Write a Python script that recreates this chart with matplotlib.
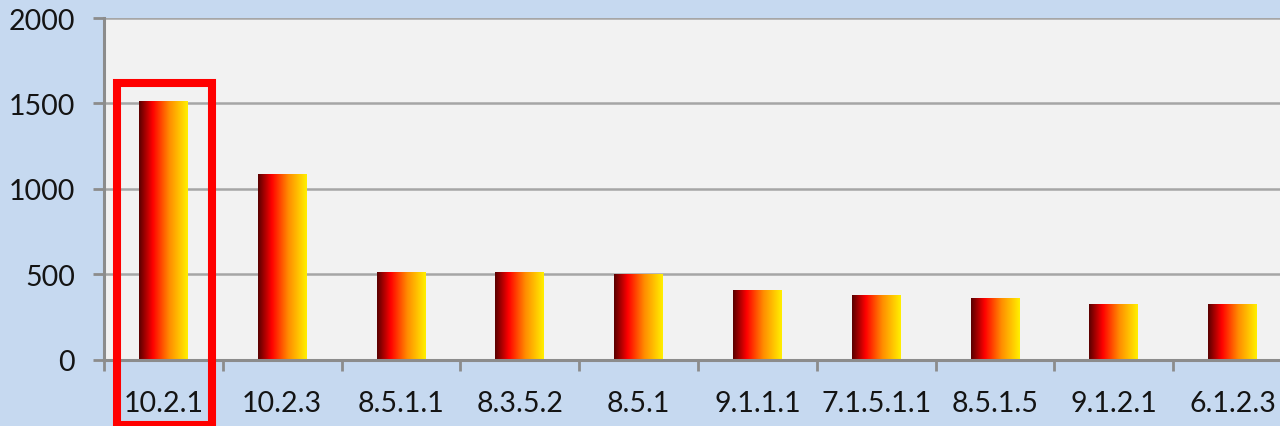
import numpy as np
import matplotlib
matplotlib.use("Agg")
import matplotlib.pyplot as plt
from matplotlib.colors import LinearSegmentedColormap
from matplotlib.patches import Rectangle
from matplotlib.ticker import FixedLocator, MultipleLocator

# data
categories = ["10.2.1", "10.2.3", "8.5.1.1", "8.3.5.2", "8.5.1",
              "9.1.1.1", "7.1.5.1.1", "8.5.1.5", "9.1.2.1", "6.1.2.3"]
values = [1512, 1083, 512, 512, 502, 404, 379, 359, 324, 324]
highlight = "10.2.1"

BG = "#c6d9f0"
PLOT_BG = "#f2f2f2"
AXIS_GRAY = "#8c8c8c"
GRID_GRAY = "#a6a6a6"

plt.rcParams["font.family"] = ["Lato", "DejaVu Sans"]

grad = LinearSegmentedColormap.from_list(
    "bar_grad",
    [(0.0, "#580000"), (0.28, "#ff0000"), (0.62, "#ff8c00"), (1.0, "#fff000")],
)
grad_img = np.linspace(0, 1, 256).reshape(1, -1)

fig = plt.figure(figsize=(12.8, 4.27), dpi=100, facecolor=BG)
ax = fig.add_axes([104 / 1280, 66.3 / 427, 1 - 104 / 1280, 341.7 / 427])
ax.set_facecolor(PLOT_BG)

x = np.arange(len(categories))
bars = ax.bar(x, values, width=0.41, color="none", edgecolor="none", zorder=3)
for b in bars:
    x0, w, h = b.get_x(), b.get_width(), b.get_height()
    ax.imshow(grad_img, cmap=grad, extent=[x0, x0 + w, 0, h],
              aspect="auto", interpolation="bicubic", zorder=3)

ax.set_xlim(-0.5, -0.5 + (1280 - 104) / 118.8)
ax.set_ylim(0, 2000)

ax.yaxis.set_major_locator(MultipleLocator(500))
ax.grid(axis="y", color=GRID_GRAY, linewidth=1.8, zorder=1)
ax.set_axisbelow(True)

# ticks at category borders, labels at centres
ax.xaxis.set_major_locator(FixedLocator(np.arange(-0.5, len(categories) + 0.5, 1)))
ax.xaxis.set_minor_locator(FixedLocator(x))
ax.set_xticklabels([], minor=False)
ax.set_xticklabels(categories, minor=True)
ax.tick_params(axis="x", which="major", length=8, width=2, color=AXIS_GRAY, direction="out")
ax.tick_params(axis="x", which="minor", length=0, pad=22, labelsize=20.5, labelcolor="#141414")
ax.tick_params(axis="y", length=8, width=2, color=AXIS_GRAY, direction="out",
               pad=13, labelsize=20.5, labelcolor="#141414")

for side in ["top", "right"]:
    ax.spines[side].set_visible(False)
for side in ["left", "bottom"]:
    ax.spines[side].set_color(AXIS_GRAY)
    ax.spines[side].set_linewidth(2.2)
    ax.spines[side].set_zorder(4)

# red highlight box around the first category (bottom edge sits on the figure edge)
i = categories.index(highlight)
box = Rectangle((i - 0.39, -385), 0.803, 2005, fill=False, edgecolor="#ff0000",
                linewidth=5.8, clip_on=False, zorder=6)
ax.add_patch(box)

fig.savefig("out.png", dpi=100, facecolor=BG)
